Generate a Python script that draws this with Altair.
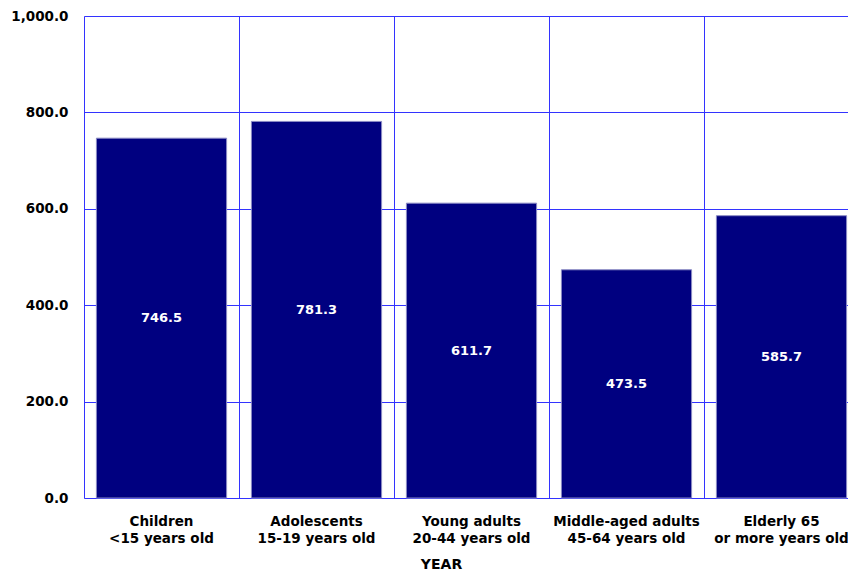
import altair as alt
import pandas as pd

categories = [
    "Children\n<15 years old",
    "Adolescents\n15-19 years old",
    "Young adults\n20-44 years old",
    "Middle-aged adults\n45-64 years old",
    "Elderly 65\nor more years old",
]
values = [746.5, 781.3, 611.7, 473.5, 585.7]
y_ticks = [0, 200, 400, 600, 800, 1000]

df = pd.DataFrame({"cat": categories, "value": values})
df["half"] = df["value"] / 2

FONT = "DejaVu Sans"
GRID = "#3333ff"

x_enc = alt.X(
    "cat:N",
    sort=categories,
    scale=alt.Scale(paddingInner=0, paddingOuter=0, range=[0, 775]),
    axis=alt.Axis(
        title="YEAR",
        labelExpr="split(datum.label, '\\n')",
        labelAngle=0,
        labelFont=FONT,
        labelFontSize=13.5,
        labelFontWeight="bold",
        labelColor="#000000",
        labelLineHeight=17,
        labelPadding=16,
        ticks=False,
        domain=False,
        grid=True,
        gridColor=GRID,
        gridOpacity=1,
        gridWidth=1,
        bandPosition=0,
        titleFont=FONT,
        titleFontSize=14,
        titleFontWeight="bold",
        titleColor="#000000",
        titleX=357,
        titleY=66,
        titleBaseline="middle",
    ),
)

y_axis = alt.Axis(
    values=y_ticks,
    format=",.1f",
    labelFont=FONT,
    labelFontSize=13.5,
    labelFontWeight="bold",
    labelColor="#000000",
    labelPadding=16,
    ticks=False,
    domain=False,
    grid=True,
    gridColor=GRID,
    gridOpacity=1,
    gridWidth=1,
    title=None,
)

bars = alt.Chart(df).mark_bar(
    color="#000080",
    stroke="#8a8ac4",
    strokeWidth=1,
    width=alt.RelativeBandSize(0.84),
).encode(
    x=x_enc,
    y=alt.Y("value:Q", scale=alt.Scale(domain=[0, 1000], nice=False), axis=y_axis),
)

labels = alt.Chart(df).mark_text(
    color="#ffffff",
    font=FONT,
    fontSize=13,
    fontWeight="bold",
    baseline="middle",
    align="center",
).encode(
    x=alt.X("cat:N", sort=categories),
    y=alt.Y("half:Q"),
    text=alt.Text("value:Q", format=".1f"),
)

chart = (
    alt.layer(bars, labels)
    .properties(
        width=764,
        height=482,
        autosize=alt.AutoSizeParams(type="none"),
        padding={"left": 76, "top": 8, "right": 0, "bottom": 76},
    )
    .configure_view(stroke=None)
    .configure(background="#ffffff")
)

chart.save("out.html", embed_options={"renderer": "svg", "actions": False})
